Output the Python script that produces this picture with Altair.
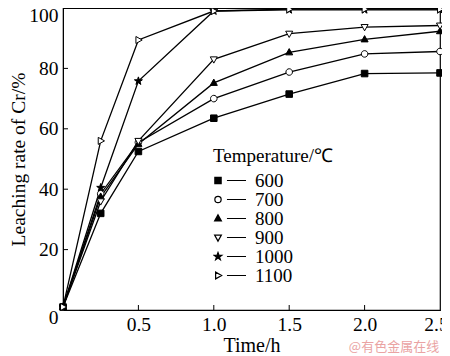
import math
import altair as alt
import pandas as pd

times = [0, 0.25, 0.5, 1.0, 1.5, 2.0, 2.5]
temps = ["600", "700", "800", "900", "1000", "1100"]
r600 = [1, 32, 52.5, 63.5, 71.5, 78.3, 78.5]
r700 = [1, 38.5, 55.5, 70, 78.8, 84.8, 85.6]
r800 = [1, 37.5, 55, 75.2, 85.3, 89.6, 92.3]
r900 = [1, 36, 56, 83, 91.5, 93.7, 94.2]
r1000 = [1, 40.5, 75.8, 99, 99.4, 99.4, 99.4]
r1100 = [1, 56, 89.4, 99, 99.6, 99.6, 99.6]
series = [r600, r700, r800, r900, r1000, r1100]
fills = ["black", "white", "black", "white", "black", "white"]
strokes = ["black"] * 6
x_ticks = [0.5, 1.0, 1.5, 2.0]
y_ticks = [20, 40, 60, 80]

rows = []
for t, vals in zip(temps, series):
    for x, y in zip(times, vals):
        rows.append({"Time": x, "Rate": y, "Temperature": t})
df = pd.DataFrame(rows)


def f(v):
    return f"{v:.3f}"


def marker_path(kind, cx, s):
    if kind == "square":
        h = 0.82 * s
        return f"M{f(cx-h)},{f(-h)}L{f(cx+h)},{f(-h)}L{f(cx+h)},{f(h)}L{f(cx-h)},{f(h)}Z"
    if kind == "circle":
        r = 0.82 * s
        return (f"M{f(cx+r)},0A{f(r)},{f(r)} 0 1,1 {f(cx-r)},0"
                f"A{f(r)},{f(r)} 0 1,1 {f(cx+r)},0Z")
    if kind == "up":
        return f"M{f(cx)},{f(-0.95*s)}L{f(cx+0.88*s)},{f(0.62*s)}L{f(cx-0.88*s)},{f(0.62*s)}Z"
    if kind == "down":
        return f"M{f(cx)},{f(0.95*s)}L{f(cx+0.88*s)},{f(-0.62*s)}L{f(cx-0.88*s)},{f(-0.62*s)}Z"
    if kind == "star":
        pts = []
        for i in range(10):
            ang = -math.pi / 2 + i * math.pi / 5
            rr = 1.05 * s if i % 2 == 0 else 0.42 * s
            pts.append((cx + rr * math.cos(ang), rr * math.sin(ang)))
        return "M" + "L".join(f"{f(px)},{f(py)}" for px, py in pts) + "Z"
    if kind == "right":
        return f"M{f(cx+0.95*s)},0L{f(cx-0.62*s)},{f(-0.88*s)}L{f(cx-0.62*s)},{f(0.88*s)}Z"


kinds = ["square", "circle", "up", "down", "star", "right"]
data_shapes = [marker_path(k, 0, 1) for k in kinds]
legend_shapes = [marker_path(k, -0.75, 0.24) + "M-0.19,0L1,0" for k in kinds]

W, H = 377, 302
serif = "Liberation Serif, Times New Roman, Times, serif"

x_scale = alt.Scale(domain=[0, 2.5], nice=False)
y_scale = alt.Scale(domain=[0, 100], nice=False)

base = alt.Chart(df)

lines = base.mark_line(color="black", strokeWidth=1.3).encode(
    x=alt.X("Time:Q", scale=x_scale,
            axis=alt.Axis(title="Time/h", values=[0.5, 1.0, 1.5, 2.0, 2.5], format=".1f",
                          ticks=False, grid=False, labelFont=serif, labelFontSize=19.5,
                          titleFont=serif, titleFontSize=20, titleFontWeight="normal",
                          labelColor="black", titleColor="black", domainColor="black",
                          labelPadding=5, titlePadding=2, labelFlush=False,
                          labelOffset=alt.ExprRef("datum.value == 2.5 ? -4 : 0"))),
    y=alt.Y("Rate:Q", scale=y_scale,
            axis=alt.Axis(title="Leaching rate of Cr/%", values=[0, 20, 40, 60, 80, 100],
                          ticks=False, grid=False, labelFont=serif, labelFontSize=19.5,
                          titleFont=serif, titleFontSize=19.5, titleFontWeight="normal",
                          labelColor="black", titleColor="black", domainColor="black",
                          labelPadding=5, titlePadding=0, labelFlush=False,
                          labelOffset=alt.ExprRef("datum.value == 0 ? 7 : (datum.value == 100 ? 7 : 0)"))),
    detail="Temperature:N",
)

points = base.mark_point(stroke="black", strokeWidth=1, opacity=1, filled=False, size=64).encode(
    x=alt.X("Time:Q", scale=x_scale),
    y=alt.Y("Rate:Q", scale=y_scale),
    shape=alt.Shape("Temperature:N", scale=alt.Scale(domain=temps, range=data_shapes), legend=None),
    fill=alt.Fill("Temperature:N", scale=alt.Scale(domain=temps, range=fills), legend=None),
)

leg_kw = dict(title="Temperature/℃", orient="none", legendX=150, legendY=139,
              titleFont=serif, titleFontSize=19, titleFontWeight="normal",
              titleColor="black", labelFont=serif, labelFontSize=19,
              labelColor="black", symbolSize=1024, symbolStrokeColor="black",
              symbolStrokeWidth=1.2, symbolOpacity=1, labelOffset=8, rowPadding=-2,
              clipHeight=17, padding=0, titlePadding=6)

legend_layer = base.transform_filter("false").mark_point(
    strokeWidth=1.2, opacity=1, filled=False, size=1024
).encode(
    x=alt.X("Time:Q", scale=x_scale),
    y=alt.Y("Rate:Q", scale=y_scale),
    shape=alt.Shape("Temperature:N", scale=alt.Scale(domain=temps, range=legend_shapes),
                    legend=alt.Legend(**leg_kw)),
    fill=alt.Fill("Temperature:N", scale=alt.Scale(domain=temps, range=fills),
                  legend=alt.Legend(**leg_kw)),
    stroke=alt.Stroke("Temperature:N", scale=alt.Scale(domain=temps, range=strokes),
                      legend=alt.Legend(**leg_kw)),
)

xt = alt.Chart(pd.DataFrame({"t": x_ticks})).mark_rule(color="black", strokeWidth=1).encode(
    x=alt.X("t:Q", scale=x_scale), y=alt.value(H), y2=alt.value(H - 5))
yt = alt.Chart(pd.DataFrame({"t": y_ticks})).mark_rule(color="black", strokeWidth=1).encode(
    y=alt.Y("t:Q", scale=y_scale), x=alt.value(0), x2=alt.value(5))

wm = alt.Chart(pd.DataFrame({"w": ["@有色金属在线"]})).mark_text(
    font="Noto Sans CJK SC", fontSize=13, color="#eaa3a3", align="center", baseline="middle"
).encode(text="w:N", x=alt.value(331), y=alt.value(339))

chart = alt.layer(lines, points, legend_layer, xt, yt, wm).resolve_scale(
    shape="independent", fill="independent", stroke="independent"
).properties(
    width=W, height=H,
    autosize=alt.AutoSizeParams(type="none"),
    padding={"left": 55, "top": 0, "right": 2, "bottom": 46},
).configure_view(stroke="black", strokeWidth=1.2)

chart.save("out.html", embed_options={"renderer": "svg", "actions": False})
